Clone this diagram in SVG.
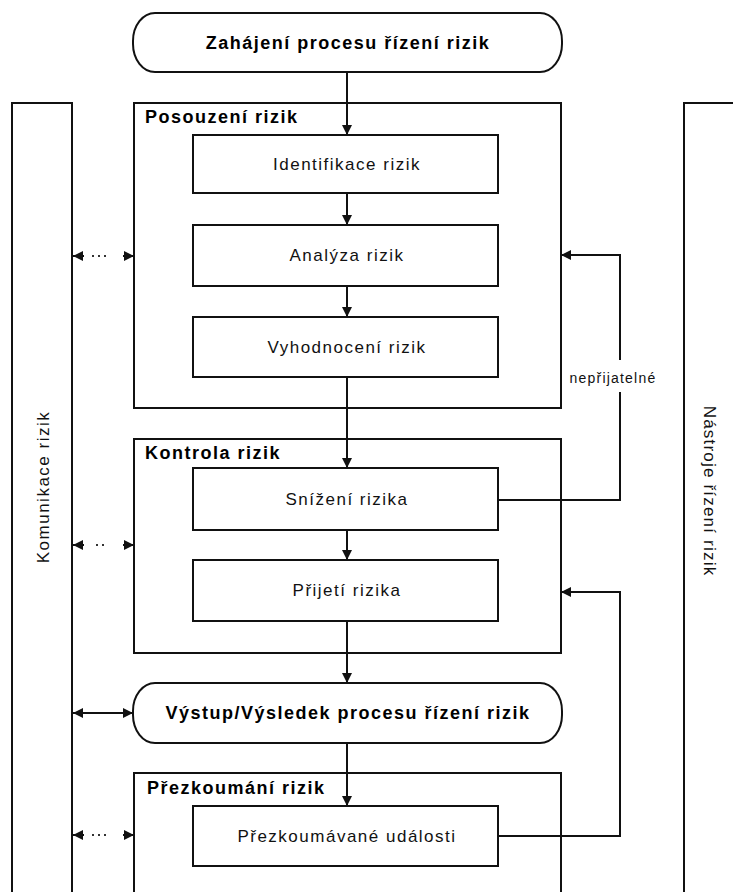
<svg xmlns="http://www.w3.org/2000/svg" width="733" height="892" viewBox="0 0 733 892">
<style>
.bg{fill:#ffffff}
.box{fill:#ffffff;stroke:#111;stroke-width:2}
.frame{fill:none;stroke:#111;stroke-width:2}
.t{font-family:"Liberation Sans",Arial,sans-serif;font-size:17px;letter-spacing:1.5px;fill:#111;text-anchor:middle}
.b{font-family:"Liberation Sans",Arial,sans-serif;font-size:18px;font-weight:bold;letter-spacing:1.5px;fill:#000}
.bc{text-anchor:middle}
.s{font-family:"Liberation Sans",Arial,sans-serif;font-size:14px;letter-spacing:1.2px;fill:#111;text-anchor:middle}
.ln{fill:none;stroke:#111;stroke-width:2}
.dot{fill:none;stroke:#333;stroke-width:2;stroke-dasharray:2 4}
</style>
<defs>
<marker id="ah" viewBox="0 0 10 10" refX="10" refY="5" markerWidth="10" markerHeight="10" markerUnits="userSpaceOnUse" orient="auto-start-reverse">
<path d="M0,0 L10,5 L0,10 z" fill="#111"/>
</marker>
</defs>
<rect class="bg" x="0" y="0" width="733" height="892"/>

<g id="komunikace">
<rect class="frame" x="12" y="103" width="60" height="800"/>
<text class="t" transform="translate(49,487) rotate(-90)">Komunikace rizik</text>
</g>

<g id="nastroje">
<rect class="frame" x="684" y="103" width="70" height="800"/>
<text class="t" transform="translate(704,491) rotate(90)" style="letter-spacing:1.2px">Nástroje řízení rizik</text>
</g>

<g id="zahajeni">
<rect class="box" x="133" y="13" width="429" height="59" rx="22" ry="28"/>
<text class="b bc" x="348" y="49">Zahájení procesu řízení rizik</text>
</g>

<g id="posouzeni">
<rect class="box" x="134" y="103" width="427" height="305"/>
<text class="b" x="145" y="123">Posouzení rizik</text>
</g>

<g id="identifikace">
<rect class="box" x="193" y="135" width="305" height="58"/>
<text class="t" x="347" y="170">Identifikace rizik</text>
</g>

<g id="analyza">
<rect class="box" x="193" y="225" width="305" height="61"/>
<text class="t" x="347" y="261">Analýza rizik</text>
</g>

<g id="vyhodnoceni">
<rect class="box" x="193" y="317" width="305" height="60"/>
<text class="t" x="347" y="353">Vyhodnocení rizik</text>
</g>

<g id="kontrola">
<rect class="box" x="134" y="439" width="427" height="214"/>
<text class="b" x="145" y="459">Kontrola rizik</text>
</g>

<g id="snizeni">
<rect class="box" x="193" y="468" width="305" height="62"/>
<text class="t" x="347" y="505">Snížení rizika</text>
</g>

<g id="prijeti">
<rect class="box" x="193" y="560" width="305" height="61"/>
<text class="t" x="347" y="596">Přijetí rizika</text>
</g>

<g id="vystup">
<rect class="box" x="133" y="683" width="429" height="60" rx="22" ry="28"/>
<text class="b bc" x="348" y="719">Výstup/Výsledek procesu řízení rizik</text>
</g>

<g id="prezkoumani">
<rect class="box" x="134" y="773" width="427" height="130"/>
<text class="b" x="147" y="794">Přezkoumání rizik</text>
</g>

<g id="prezkoumavane">
<rect class="box" x="193" y="806" width="305" height="60"/>
<text class="t" x="347" y="842">Přezkoumávané události</text>
</g>

<g id="connectors">
<line class="ln" x1="347" y1="72" x2="347" y2="135" marker-end="url(#ah)"/>
<line class="ln" x1="347" y1="193" x2="347" y2="225" marker-end="url(#ah)"/>
<line class="ln" x1="347" y1="286" x2="347" y2="317" marker-end="url(#ah)"/>
<line class="ln" x1="347" y1="377" x2="347" y2="468" marker-end="url(#ah)"/>
<line class="ln" x1="347" y1="530" x2="347" y2="560" marker-end="url(#ah)"/>
<line class="ln" x1="347" y1="621" x2="347" y2="683" marker-end="url(#ah)"/>
<line class="ln" x1="347" y1="743" x2="347" y2="806" marker-end="url(#ah)"/>

<path class="ln" d="M498,500 H620 V392"/>
<path class="ln" d="M620,360 V255 H561" marker-end="url(#ah)"/>
<text class="s" x="613" y="383">nepřijatelné</text>

<path class="ln" d="M498,836 H620 V592 H561" marker-end="url(#ah)"/>

<line class="ln" x1="73" y1="713" x2="133" y2="713" marker-start="url(#ah)" marker-end="url(#ah)"/>

<line class="ln" x1="84" y1="256" x2="73" y2="256" marker-end="url(#ah)"/>
<line class="dot" x1="92" y1="256" x2="108" y2="256"/>
<line class="ln" x1="123" y1="256" x2="134" y2="256" marker-end="url(#ah)"/>

<line class="ln" x1="84" y1="545" x2="73" y2="545" marker-end="url(#ah)"/>
<line class="dot" x1="96" y1="545" x2="106" y2="545"/>
<line class="ln" x1="123" y1="545" x2="134" y2="545" marker-end="url(#ah)"/>

<line class="ln" x1="84" y1="835" x2="73" y2="835" marker-end="url(#ah)"/>
<line class="dot" x1="92" y1="835" x2="108" y2="835"/>
<line class="ln" x1="123" y1="835" x2="134" y2="835" marker-end="url(#ah)"/>
</g>
</svg>
